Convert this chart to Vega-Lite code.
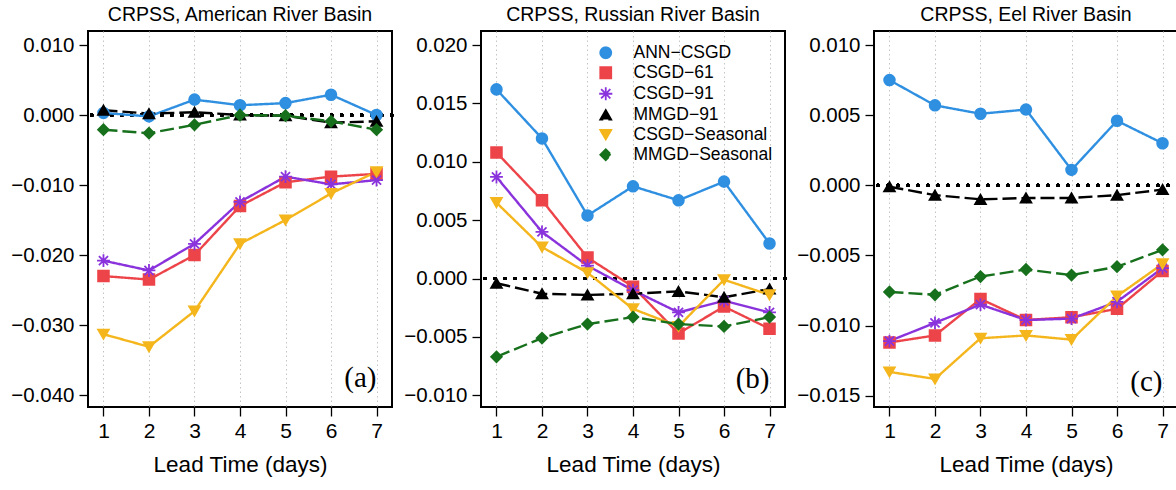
{
  "$schema": "https://vega.github.io/schema/vega-lite/v6.json",
  "padding": {"left": 9, "top": 3, "right": 0, "bottom": 0},
  "background": "white",
  "spacing": 89,
  "bounds": "flush",
  "config": {
    "font": "Liberation Sans",
    "view": {"stroke": "black", "strokeWidth": 2},
    "axis": {"labelFont": "Liberation Sans", "labelFontSize": 20.5, "labelColor": "black", "tickColor": "black", "tickSize": 9, "tickWidth": 1.3, "domain": false, "gridColor": "#c4c4c4", "gridDash": [1.5, 3], "gridWidth": 1, "titleFont": "Liberation Sans", "titleFontSize": 22.5, "titleFontWeight": "normal", "titleColor": "black", "labelPadding": 5},
    "axisX": {"titlePadding": 12, "labelFontSize": 21, "labelPadding": 4},
    "title": {"font": "Liberation Sans", "fontSize": 19.5, "fontWeight": "normal", "color": "black", "anchor": "middle", "frame": "group", "offset": 6}
  },
  "resolve": {
    "scale": {"color": "independent", "shape": "independent", "stroke": "independent", "strokeDash": "independent"},
    "legend": {"color": "independent", "shape": "independent", "stroke": "independent", "strokeDash": "independent"}
  },
  "datasets": {
    "labels": [
      {"basin": "American", "label": "(a)"},
      {"basin": "Russian", "label": "(b)"},
      {"basin": "Eel", "label": "(c)"}
    ],
    "crpss": [
      {"basin": "American", "model": "ANN−CSGD", "day": 1, "crpss": 0.0003},
      {"basin": "American", "model": "ANN−CSGD", "day": 2, "crpss": -0.0002},
      {"basin": "American", "model": "ANN−CSGD", "day": 3, "crpss": 0.0022},
      {"basin": "American", "model": "ANN−CSGD", "day": 4, "crpss": 0.0014},
      {"basin": "American", "model": "ANN−CSGD", "day": 5, "crpss": 0.0017},
      {"basin": "American", "model": "ANN−CSGD", "day": 6, "crpss": 0.0029},
      {"basin": "American", "model": "ANN−CSGD", "day": 7, "crpss": 0.0000},
      {"basin": "American", "model": "CSGD−61", "day": 1, "crpss": -0.0230},
      {"basin": "American", "model": "CSGD−61", "day": 2, "crpss": -0.0235},
      {"basin": "American", "model": "CSGD−61", "day": 3, "crpss": -0.0200},
      {"basin": "American", "model": "CSGD−61", "day": 4, "crpss": -0.0130},
      {"basin": "American", "model": "CSGD−61", "day": 5, "crpss": -0.0096},
      {"basin": "American", "model": "CSGD−61", "day": 6, "crpss": -0.0088},
      {"basin": "American", "model": "CSGD−61", "day": 7, "crpss": -0.0084},
      {"basin": "American", "model": "CSGD−91", "day": 1, "crpss": -0.0208},
      {"basin": "American", "model": "CSGD−91", "day": 2, "crpss": -0.0222},
      {"basin": "American", "model": "CSGD−91", "day": 3, "crpss": -0.0184},
      {"basin": "American", "model": "CSGD−91", "day": 4, "crpss": -0.0124},
      {"basin": "American", "model": "CSGD−91", "day": 5, "crpss": -0.0088},
      {"basin": "American", "model": "CSGD−91", "day": 6, "crpss": -0.0099},
      {"basin": "American", "model": "CSGD−91", "day": 7, "crpss": -0.0093},
      {"basin": "American", "model": "MMGD−91", "day": 1, "crpss": 0.0007},
      {"basin": "American", "model": "MMGD−91", "day": 2, "crpss": 0.0002},
      {"basin": "American", "model": "MMGD−91", "day": 3, "crpss": 0.0004},
      {"basin": "American", "model": "MMGD−91", "day": 4, "crpss": 0.0000},
      {"basin": "American", "model": "MMGD−91", "day": 5, "crpss": -0.0001},
      {"basin": "American", "model": "MMGD−91", "day": 6, "crpss": -0.0011},
      {"basin": "American", "model": "MMGD−91", "day": 7, "crpss": -0.0009},
      {"basin": "American", "model": "CSGD−Seasonal", "day": 1, "crpss": -0.0313},
      {"basin": "American", "model": "CSGD−Seasonal", "day": 2, "crpss": -0.0331},
      {"basin": "American", "model": "CSGD−Seasonal", "day": 3, "crpss": -0.0280},
      {"basin": "American", "model": "CSGD−Seasonal", "day": 4, "crpss": -0.0184},
      {"basin": "American", "model": "CSGD−Seasonal", "day": 5, "crpss": -0.0150},
      {"basin": "American", "model": "CSGD−Seasonal", "day": 6, "crpss": -0.0112},
      {"basin": "American", "model": "CSGD−Seasonal", "day": 7, "crpss": -0.0081},
      {"basin": "American", "model": "MMGD−Seasonal", "day": 1, "crpss": -0.0021},
      {"basin": "American", "model": "MMGD−Seasonal", "day": 2, "crpss": -0.0026},
      {"basin": "American", "model": "MMGD−Seasonal", "day": 3, "crpss": -0.0014},
      {"basin": "American", "model": "MMGD−Seasonal", "day": 4, "crpss": 0.0000},
      {"basin": "American", "model": "MMGD−Seasonal", "day": 5, "crpss": -0.0001},
      {"basin": "American", "model": "MMGD−Seasonal", "day": 6, "crpss": -0.0009},
      {"basin": "American", "model": "MMGD−Seasonal", "day": 7, "crpss": -0.0021},
      {"basin": "Russian", "model": "ANN−CSGD", "day": 1, "crpss": 0.0162},
      {"basin": "Russian", "model": "ANN−CSGD", "day": 2, "crpss": 0.0120},
      {"basin": "Russian", "model": "ANN−CSGD", "day": 3, "crpss": 0.0054},
      {"basin": "Russian", "model": "ANN−CSGD", "day": 4, "crpss": 0.0079},
      {"basin": "Russian", "model": "ANN−CSGD", "day": 5, "crpss": 0.0067},
      {"basin": "Russian", "model": "ANN−CSGD", "day": 6, "crpss": 0.0083},
      {"basin": "Russian", "model": "ANN−CSGD", "day": 7, "crpss": 0.0030},
      {"basin": "Russian", "model": "CSGD−61", "day": 1, "crpss": 0.0108},
      {"basin": "Russian", "model": "CSGD−61", "day": 2, "crpss": 0.0067},
      {"basin": "Russian", "model": "CSGD−61", "day": 3, "crpss": 0.0018},
      {"basin": "Russian", "model": "CSGD−61", "day": 4, "crpss": -0.0007},
      {"basin": "Russian", "model": "CSGD−61", "day": 5, "crpss": -0.0047},
      {"basin": "Russian", "model": "CSGD−61", "day": 6, "crpss": -0.0024},
      {"basin": "Russian", "model": "CSGD−61", "day": 7, "crpss": -0.0043},
      {"basin": "Russian", "model": "CSGD−91", "day": 1, "crpss": 0.0087},
      {"basin": "Russian", "model": "CSGD−91", "day": 2, "crpss": 0.0040},
      {"basin": "Russian", "model": "CSGD−91", "day": 3, "crpss": 0.0011},
      {"basin": "Russian", "model": "CSGD−91", "day": 4, "crpss": -0.0010},
      {"basin": "Russian", "model": "CSGD−91", "day": 5, "crpss": -0.0029},
      {"basin": "Russian", "model": "CSGD−91", "day": 6, "crpss": -0.0019},
      {"basin": "Russian", "model": "CSGD−91", "day": 7, "crpss": -0.0029},
      {"basin": "Russian", "model": "MMGD−91", "day": 1, "crpss": -0.0004},
      {"basin": "Russian", "model": "MMGD−91", "day": 2, "crpss": -0.0013},
      {"basin": "Russian", "model": "MMGD−91", "day": 3, "crpss": -0.0014},
      {"basin": "Russian", "model": "MMGD−91", "day": 4, "crpss": -0.0013},
      {"basin": "Russian", "model": "MMGD−91", "day": 5, "crpss": -0.0011},
      {"basin": "Russian", "model": "MMGD−91", "day": 6, "crpss": -0.0016},
      {"basin": "Russian", "model": "MMGD−91", "day": 7, "crpss": -0.0009},
      {"basin": "Russian", "model": "CSGD−Seasonal", "day": 1, "crpss": 0.0065},
      {"basin": "Russian", "model": "CSGD−Seasonal", "day": 2, "crpss": 0.0027},
      {"basin": "Russian", "model": "CSGD−Seasonal", "day": 3, "crpss": 0.0005},
      {"basin": "Russian", "model": "CSGD−Seasonal", "day": 4, "crpss": -0.0026},
      {"basin": "Russian", "model": "CSGD−Seasonal", "day": 5, "crpss": -0.0041},
      {"basin": "Russian", "model": "CSGD−Seasonal", "day": 6, "crpss": -0.0001},
      {"basin": "Russian", "model": "CSGD−Seasonal", "day": 7, "crpss": -0.0014},
      {"basin": "Russian", "model": "MMGD−Seasonal", "day": 1, "crpss": -0.0067},
      {"basin": "Russian", "model": "MMGD−Seasonal", "day": 2, "crpss": -0.0051},
      {"basin": "Russian", "model": "MMGD−Seasonal", "day": 3, "crpss": -0.0039},
      {"basin": "Russian", "model": "MMGD−Seasonal", "day": 4, "crpss": -0.0033},
      {"basin": "Russian", "model": "MMGD−Seasonal", "day": 5, "crpss": -0.0039},
      {"basin": "Russian", "model": "MMGD−Seasonal", "day": 6, "crpss": -0.0041},
      {"basin": "Russian", "model": "MMGD−Seasonal", "day": 7, "crpss": -0.0033},
      {"basin": "Eel", "model": "ANN−CSGD", "day": 1, "crpss": 0.0075},
      {"basin": "Eel", "model": "ANN−CSGD", "day": 2, "crpss": 0.0057},
      {"basin": "Eel", "model": "ANN−CSGD", "day": 3, "crpss": 0.0051},
      {"basin": "Eel", "model": "ANN−CSGD", "day": 4, "crpss": 0.0054},
      {"basin": "Eel", "model": "ANN−CSGD", "day": 5, "crpss": 0.0011},
      {"basin": "Eel", "model": "ANN−CSGD", "day": 6, "crpss": 0.0046},
      {"basin": "Eel", "model": "ANN−CSGD", "day": 7, "crpss": 0.0030},
      {"basin": "Eel", "model": "CSGD−61", "day": 1, "crpss": -0.0112},
      {"basin": "Eel", "model": "CSGD−61", "day": 2, "crpss": -0.0107},
      {"basin": "Eel", "model": "CSGD−61", "day": 3, "crpss": -0.0081},
      {"basin": "Eel", "model": "CSGD−61", "day": 4, "crpss": -0.0096},
      {"basin": "Eel", "model": "CSGD−61", "day": 5, "crpss": -0.0094},
      {"basin": "Eel", "model": "CSGD−61", "day": 6, "crpss": -0.0088},
      {"basin": "Eel", "model": "CSGD−61", "day": 7, "crpss": -0.0061},
      {"basin": "Eel", "model": "CSGD−91", "day": 1, "crpss": -0.0111},
      {"basin": "Eel", "model": "CSGD−91", "day": 2, "crpss": -0.0098},
      {"basin": "Eel", "model": "CSGD−91", "day": 3, "crpss": -0.0085},
      {"basin": "Eel", "model": "CSGD−91", "day": 4, "crpss": -0.0096},
      {"basin": "Eel", "model": "CSGD−91", "day": 5, "crpss": -0.0095},
      {"basin": "Eel", "model": "CSGD−91", "day": 6, "crpss": -0.0083},
      {"basin": "Eel", "model": "CSGD−91", "day": 7, "crpss": -0.0059},
      {"basin": "Eel", "model": "MMGD−91", "day": 1, "crpss": -0.0001},
      {"basin": "Eel", "model": "MMGD−91", "day": 2, "crpss": -0.0007},
      {"basin": "Eel", "model": "MMGD−91", "day": 3, "crpss": -0.0010},
      {"basin": "Eel", "model": "MMGD−91", "day": 4, "crpss": -0.0009},
      {"basin": "Eel", "model": "MMGD−91", "day": 5, "crpss": -0.0009},
      {"basin": "Eel", "model": "MMGD−91", "day": 6, "crpss": -0.0007},
      {"basin": "Eel", "model": "MMGD−91", "day": 7, "crpss": -0.0003},
      {"basin": "Eel", "model": "CSGD−Seasonal", "day": 1, "crpss": -0.0133},
      {"basin": "Eel", "model": "CSGD−Seasonal", "day": 2, "crpss": -0.0138},
      {"basin": "Eel", "model": "CSGD−Seasonal", "day": 3, "crpss": -0.0109},
      {"basin": "Eel", "model": "CSGD−Seasonal", "day": 4, "crpss": -0.0107},
      {"basin": "Eel", "model": "CSGD−Seasonal", "day": 5, "crpss": -0.0110},
      {"basin": "Eel", "model": "CSGD−Seasonal", "day": 6, "crpss": -0.0079},
      {"basin": "Eel", "model": "CSGD−Seasonal", "day": 7, "crpss": -0.0056},
      {"basin": "Eel", "model": "MMGD−Seasonal", "day": 1, "crpss": -0.0076},
      {"basin": "Eel", "model": "MMGD−Seasonal", "day": 2, "crpss": -0.0078},
      {"basin": "Eel", "model": "MMGD−Seasonal", "day": 3, "crpss": -0.0065},
      {"basin": "Eel", "model": "MMGD−Seasonal", "day": 4, "crpss": -0.0060},
      {"basin": "Eel", "model": "MMGD−Seasonal", "day": 5, "crpss": -0.0064},
      {"basin": "Eel", "model": "MMGD−Seasonal", "day": 6, "crpss": -0.0058},
      {"basin": "Eel", "model": "MMGD−Seasonal", "day": 7, "crpss": -0.0046}
    ]
  },
  "hconcat": [
    {
      "width": 304, "height": 376,
      "title": "CRPSS, American River Basin",
      "layer": [
        {"data": {"name": "crpss"}, "transform": [{"filter": "datum.basin === 'American'"}],
         "mark": {"type": "rule", "strokeDash": [0.5, 9.5], "strokeWidth": 3, "color": "black", "strokeCap": "round"}, "encoding": {"y": {"datum": 0, "type": "quantitative"}}},
        {"data": {"name": "crpss"}, "transform": [{"filter": "datum.basin === 'American'"}],
         "mark": {"type": "line", "strokeWidth": 2.4},
         "encoding": {
           "x": {"field": "day", "type": "quantitative", "scale": {"domain": [0.66, 7.34], "nice": false, "zero": false}, "axis": {"values": [1, 2, 3, 4, 5, 6, 7], "format": "d", "title": "Lead Time (days)"}},
           "y": {"field": "crpss", "type": "quantitative", "scale": {"domain": [-0.0417, 0.012], "nice": false, "zero": false}, "axis": {"values": [-0.04, -0.03, -0.02, -0.01, 0, 0.01], "format": ".3f", "title": null}},
           "color": {"field": "model", "type": "nominal", "scale": {"domain": ["ANN−CSGD", "CSGD−61", "CSGD−91", "MMGD−91", "CSGD−Seasonal", "MMGD−Seasonal"], "range": ["#2F8FE0", "#EC4449", "#8A33DC", "#000000", "#F4B61C", "#17701C"]}, "legend": null},
           "strokeDash": {"field": "model", "type": "nominal", "scale": {"domain": ["ANN−CSGD", "CSGD−61", "CSGD−91", "MMGD−91", "CSGD−Seasonal", "MMGD−Seasonal"], "range": [[1, 0], [1, 0], [1, 0], [14, 5], [1, 0], [14, 5]]}, "legend": null}
         }},
        {"data": {"name": "crpss"}, "transform": [{"filter": "datum.basin === 'American'"}],
         "mark": {"type": "point", "filled": true, "opacity": 1, "size": 115, "strokeWidth": 1.8},
         "encoding": {
           "x": {"field": "day", "type": "quantitative"},
           "y": {"field": "crpss", "type": "quantitative"},
           "color": {"field": "model", "type": "nominal", "legend": null},
           "stroke": {"field": "model", "type": "nominal", "scale": {"domain": ["ANN−CSGD", "CSGD−61", "CSGD−91", "MMGD−91", "CSGD−Seasonal", "MMGD−Seasonal"], "range": ["#2F8FE0", "#EC4449", "#8A33DC", "#000000", "#F4B61C", "#17701C"]}, "legend": null},
           "shape": {"field": "model", "type": "nominal", "scale": {"domain": ["ANN−CSGD", "CSGD−61", "CSGD−91", "MMGD−91", "CSGD−Seasonal", "MMGD−Seasonal"], "range": ["circle", "square", "M-1.2,0L1.2,0M0,-1.2L0,1.2M-0.85,-0.85L0.85,0.85M-0.85,0.85L0.85,-0.85", "triangle-up", "triangle-down", "diamond"]}, "legend": null}
         }},
        {"data": {"name": "labels"}, "transform": [{"filter": "datum.basin === 'American'"}],
         "mark": {"type": "text", "font": "Liberation Serif", "fontSize": 29, "fontWeight": "normal", "align": "right", "baseline": "middle", "color": "black"},
         "encoding": {"x": {"datum": 7.0, "type": "quantitative"}, "y": {"datum": -0.0376, "type": "quantitative"}, "text": {"field": "label"}}}
      ]
    },
    {
      "width": 304, "height": 376,
      "title": "CRPSS, Russian River Basin",
      "layer": [
        {"data": {"name": "crpss"}, "transform": [{"filter": "datum.basin === 'Russian'"}],
         "mark": {"type": "rule", "strokeDash": [0.5, 9.5], "strokeWidth": 3, "color": "black", "strokeCap": "round"}, "encoding": {"y": {"datum": 0, "type": "quantitative"}}},
        {"data": {"name": "crpss"}, "transform": [{"filter": "datum.basin === 'Russian'"}],
         "mark": {"type": "line", "strokeWidth": 2.4},
         "encoding": {
           "x": {"field": "day", "type": "quantitative", "scale": {"domain": [0.66, 7.34], "nice": false, "zero": false}, "axis": {"values": [1, 2, 3, 4, 5, 6, 7], "format": "d", "title": "Lead Time (days)"}},
           "y": {"field": "crpss", "type": "quantitative", "scale": {"domain": [-0.011, 0.0212], "nice": false, "zero": false}, "axis": {"values": [-0.01, -0.005, 0, 0.005, 0.01, 0.015, 0.02], "format": ".3f", "title": null}},
           "color": {"field": "model", "type": "nominal", "scale": {"domain": ["ANN−CSGD", "CSGD−61", "CSGD−91", "MMGD−91", "CSGD−Seasonal", "MMGD−Seasonal"], "range": ["#2F8FE0", "#EC4449", "#8A33DC", "#000000", "#F4B61C", "#17701C"]},
             "legend": {"orient": "none", "legendX": 116, "legendY": 13, "title": null, "labelFont": "Liberation Sans", "labelFontSize": 17.5, "labelColor": "black", "symbolSize": 120, "rowPadding": 1, "labelOffset": 19, "padding": 0, "symbolStrokeWidth": 1.8, "symbolOpacity": 1}},
           "strokeDash": {"field": "model", "type": "nominal", "scale": {"domain": ["ANN−CSGD", "CSGD−61", "CSGD−91", "MMGD−91", "CSGD−Seasonal", "MMGD−Seasonal"], "range": [[1, 0], [1, 0], [1, 0], [14, 5], [1, 0], [14, 5]]}, "legend": null}
         }},
        {"data": {"name": "crpss"}, "transform": [{"filter": "datum.basin === 'Russian'"}],
         "mark": {"type": "point", "filled": true, "opacity": 1, "size": 115, "strokeWidth": 1.8},
         "encoding": {
           "x": {"field": "day", "type": "quantitative"},
           "y": {"field": "crpss", "type": "quantitative"},
           "color": {"field": "model", "type": "nominal",
             "legend": {"orient": "none", "legendX": 116, "legendY": 13, "title": null, "labelFont": "Liberation Sans", "labelFontSize": 17.5, "labelColor": "black", "symbolSize": 120, "rowPadding": 1, "labelOffset": 19, "padding": 0, "symbolStrokeWidth": 1.8, "symbolOpacity": 1}},
           "stroke": {"field": "model", "type": "nominal", "scale": {"domain": ["ANN−CSGD", "CSGD−61", "CSGD−91", "MMGD−91", "CSGD−Seasonal", "MMGD−Seasonal"], "range": ["#2F8FE0", "#EC4449", "#8A33DC", "#000000", "#F4B61C", "#17701C"]},
             "legend": {"orient": "none", "legendX": 116, "legendY": 13, "title": null, "labelFont": "Liberation Sans", "labelFontSize": 17.5, "labelColor": "black", "symbolSize": 120, "rowPadding": 1, "labelOffset": 19, "padding": 0, "symbolStrokeWidth": 1.8, "symbolOpacity": 1}},
           "shape": {"field": "model", "type": "nominal", "scale": {"domain": ["ANN−CSGD", "CSGD−61", "CSGD−91", "MMGD−91", "CSGD−Seasonal", "MMGD−Seasonal"], "range": ["circle", "square", "M-1.2,0L1.2,0M0,-1.2L0,1.2M-0.85,-0.85L0.85,0.85M-0.85,0.85L0.85,-0.85", "triangle-up", "triangle-down", "diamond"]},
             "legend": {"orient": "none", "legendX": 116, "legendY": 13, "title": null, "labelFont": "Liberation Sans", "labelFontSize": 17.5, "labelColor": "black", "symbolSize": 120, "rowPadding": 1, "labelOffset": 19, "padding": 0, "symbolStrokeWidth": 1.8, "symbolOpacity": 1}}
         }},
        {"data": {"name": "labels"}, "transform": [{"filter": "datum.basin === 'Russian'"}],
         "mark": {"type": "text", "font": "Liberation Serif", "fontSize": 29, "fontWeight": "normal", "align": "right", "baseline": "middle", "color": "black"},
         "encoding": {"x": {"datum": 7.0, "type": "quantitative"}, "y": {"datum": -0.0086, "type": "quantitative"}, "text": {"field": "label"}}}
      ]
    },
    {
      "width": 304, "height": 376,
      "title": "CRPSS, Eel River Basin",
      "layer": [
        {"data": {"name": "crpss"}, "transform": [{"filter": "datum.basin === 'Eel'"}],
         "mark": {"type": "rule", "strokeDash": [0.5, 9.5], "strokeWidth": 3, "color": "black", "strokeCap": "round"}, "encoding": {"y": {"datum": 0, "type": "quantitative"}}},
        {"data": {"name": "crpss"}, "transform": [{"filter": "datum.basin === 'Eel'"}],
         "mark": {"type": "line", "strokeWidth": 2.4},
         "encoding": {
           "x": {"field": "day", "type": "quantitative", "scale": {"domain": [0.66, 7.34], "nice": false, "zero": false}, "axis": {"values": [1, 2, 3, 4, 5, 6, 7], "format": "d", "title": "Lead Time (days)"}},
           "y": {"field": "crpss", "type": "quantitative", "scale": {"domain": [-0.0158, 0.011], "nice": false, "zero": false}, "axis": {"values": [-0.015, -0.01, -0.005, 0, 0.005, 0.01], "format": ".3f", "title": null}},
           "color": {"field": "model", "type": "nominal", "scale": {"domain": ["ANN−CSGD", "CSGD−61", "CSGD−91", "MMGD−91", "CSGD−Seasonal", "MMGD−Seasonal"], "range": ["#2F8FE0", "#EC4449", "#8A33DC", "#000000", "#F4B61C", "#17701C"]}, "legend": null},
           "strokeDash": {"field": "model", "type": "nominal", "scale": {"domain": ["ANN−CSGD", "CSGD−61", "CSGD−91", "MMGD−91", "CSGD−Seasonal", "MMGD−Seasonal"], "range": [[1, 0], [1, 0], [1, 0], [14, 5], [1, 0], [14, 5]]}, "legend": null}
         }},
        {"data": {"name": "crpss"}, "transform": [{"filter": "datum.basin === 'Eel'"}],
         "mark": {"type": "point", "filled": true, "opacity": 1, "size": 115, "strokeWidth": 1.8},
         "encoding": {
           "x": {"field": "day", "type": "quantitative"},
           "y": {"field": "crpss", "type": "quantitative"},
           "color": {"field": "model", "type": "nominal", "legend": null},
           "stroke": {"field": "model", "type": "nominal", "scale": {"domain": ["ANN−CSGD", "CSGD−61", "CSGD−91", "MMGD−91", "CSGD−Seasonal", "MMGD−Seasonal"], "range": ["#2F8FE0", "#EC4449", "#8A33DC", "#000000", "#F4B61C", "#17701C"]}, "legend": null},
           "shape": {"field": "model", "type": "nominal", "scale": {"domain": ["ANN−CSGD", "CSGD−61", "CSGD−91", "MMGD−91", "CSGD−Seasonal", "MMGD−Seasonal"], "range": ["circle", "square", "M-1.2,0L1.2,0M0,-1.2L0,1.2M-0.85,-0.85L0.85,0.85M-0.85,0.85L0.85,-0.85", "triangle-up", "triangle-down", "diamond"]}, "legend": null}
         }},
        {"data": {"name": "labels"}, "transform": [{"filter": "datum.basin === 'Eel'"}],
         "mark": {"type": "text", "font": "Liberation Serif", "fontSize": 29, "fontWeight": "normal", "align": "right", "baseline": "middle", "color": "black"},
         "encoding": {"x": {"datum": 7.0, "type": "quantitative"}, "y": {"datum": -0.014, "type": "quantitative"}, "text": {"field": "label"}}}
      ]
    }
  ]
}
